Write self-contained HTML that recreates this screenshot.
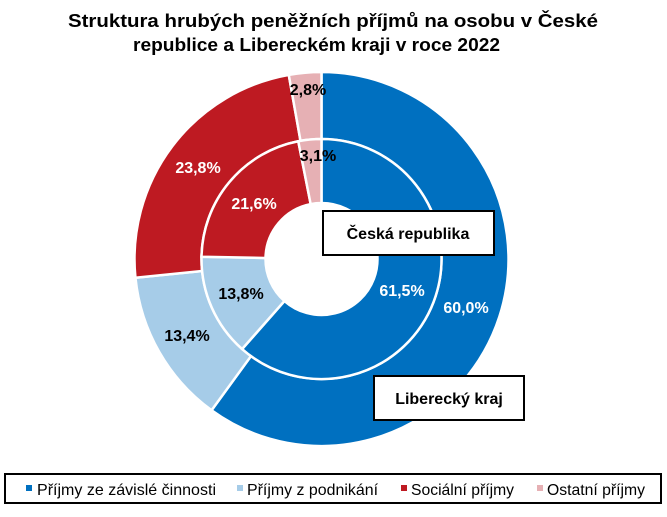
<!DOCTYPE html>
<html><head><meta charset="utf-8"><style>
body{margin:0;background:#fff;width:667px;height:512px;overflow:hidden;font-family:"Liberation Sans",sans-serif}
</style></head><body>
<svg width="667" height="512" xmlns="http://www.w3.org/2000/svg" font-family="Liberation Sans, sans-serif">
<text x="68" y="27" textLength="530" lengthAdjust="spacingAndGlyphs" font-size="18" font-weight="bold">Struktura hrubých peněžních příjmů na osobu v České</text>
<text x="133" y="51" textLength="367" lengthAdjust="spacingAndGlyphs" font-size="18" font-weight="bold">republice a Libereckém kraji v roce 2022</text>
<g id="rings"></g>
<g font-size="16" font-weight="bold" text-anchor="middle">
<text x="308" y="95" fill="#000">2,8%</text>
<text x="318" y="161" fill="#000">3,1%</text>
<text x="198" y="173" fill="#fff">23,8%</text>
<text x="254" y="209" fill="#fff">21,6%</text>
<text x="241" y="299" fill="#000">13,8%</text>
<text x="187" y="341" fill="#000">13,4%</text>
<text x="402" y="296" fill="#fff">61,5%</text>
<text x="466" y="313" fill="#fff">60,0%</text>
</g>
<rect x="323" y="211" width="171" height="44" fill="#fff" stroke="#000" stroke-width="2"/>
<text x="408" y="239" text-anchor="middle" font-size="16" font-weight="bold">Česká republika</text>
<rect x="374" y="376" width="150" height="44" fill="#fff" stroke="#000" stroke-width="2"/>
<text x="449" y="404" text-anchor="middle" font-size="16" font-weight="bold">Liberecký kraj</text>
<rect x="5" y="474" width="656" height="29" fill="#fff" stroke="#000" stroke-width="2"/>
<g font-size="16">
<rect x="26" y="485" width="6" height="6" fill="#0070c0"/><text x="37" y="495" textLength="179" lengthAdjust="spacingAndGlyphs">Příjmy ze závislé činnosti</text>
<rect x="237" y="485" width="6" height="6" fill="#a6cce8"/><text x="247" y="495" textLength="131" lengthAdjust="spacingAndGlyphs">Příjmy z podnikání</text>
<rect x="401" y="485" width="6" height="6" fill="#be1a22"/><text x="411" y="495" textLength="103" lengthAdjust="spacingAndGlyphs">Sociální příjmy</text>
<rect x="537" y="485" width="6" height="6" fill="#e6b0b4"/><text x="547" y="495" textLength="98" lengthAdjust="spacingAndGlyphs">Ostatní příjmy</text>
</g>
</svg>
<script>
var cx=321.5,cy=259,cols=["#0070c0","#a6cce8","#be1a22","#e6b0b4"];
function ring(vals,r0,r1){var s="",a=0,t=vals.reduce((p,c)=>p+c,0);
vals.forEach(function(v,i){var b=a+v/t*2*Math.PI;
function P(r,ang){return (cx+r*Math.sin(ang)).toFixed(2)+","+(cy-r*Math.cos(ang)).toFixed(2)}
var l=(b-a)>Math.PI?1:0;
s+='<path d="M'+P(r1,a)+' A'+r1+','+r1+' 0 '+l+' 1 '+P(r1,b)+' L'+P(r0,b)+' A'+r0+','+r0+' 0 '+l+' 0 '+P(r0,a)+' Z" fill="'+cols[i]+'" stroke="#fff" stroke-width="2.5"/>';a=b;});return s;}
document.getElementById("rings").innerHTML=ring([60.0,13.4,23.8,2.8],120,187)+ring([61.5,13.8,21.6,3.1],56,120);
</script>
</body></html>
